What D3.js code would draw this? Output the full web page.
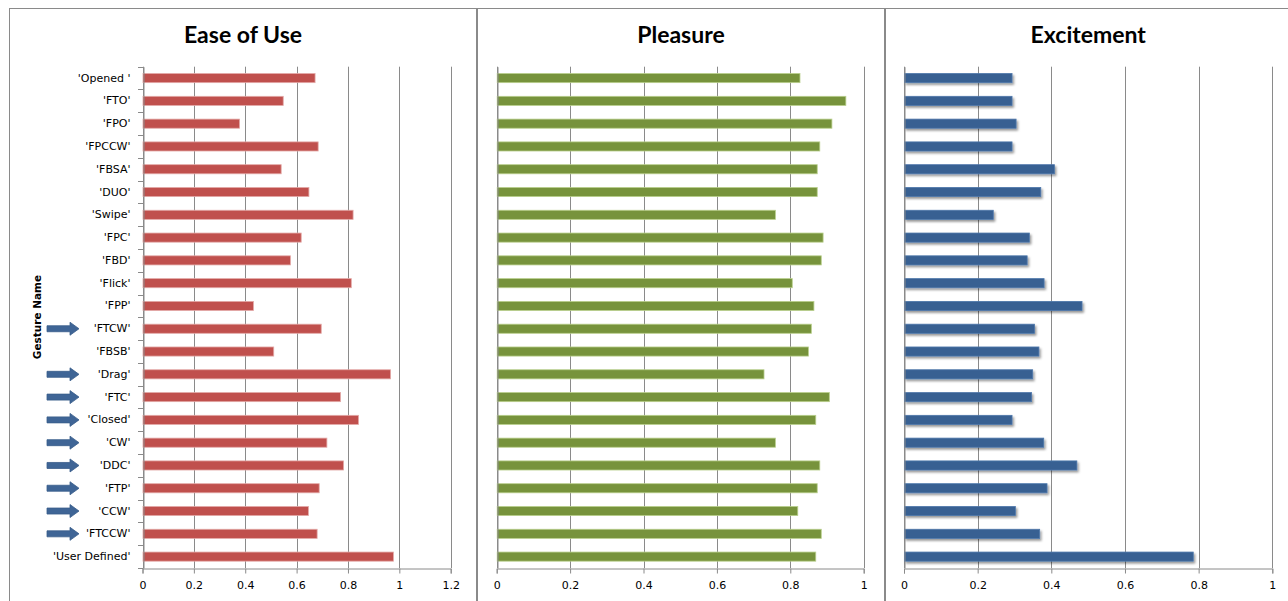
<!DOCTYPE html>
<html>
<head>
<meta charset="utf-8">
<script src="https://cdn.jsdelivr.net/npm/d3@7"></script>
<style>
body { margin: 0; background: #fff; }
svg { display: block; }
</style>
</head>
<body>
<script>
// gesture names, top to bottom as in the sheet
var gestures = ["'Opened '", "'FTO'", "'FPO'", "'FPCCW'", "'FBSA'", "'DUO'", "'Swipe'", "'FPC'",
  "'FBD'", "'Flick'", "'FPP'", "'FTCW'", "'FBSB'", "'Drag'", "'FTC'", "'Closed'", "'CW'",
  "'DDC'", "'FTP'", "'CCW'", "'FTCCW'", "'User Defined'"];

var easeOfUse  = [0.670, 0.546, 0.376, 0.682, 0.538, 0.646, 0.818, 0.616, 0.574, 0.811, 0.430,
  0.694, 0.509, 0.964, 0.769, 0.839, 0.716, 0.781, 0.686, 0.644, 0.678, 0.975];
var pleasure   = [0.825, 0.950, 0.912, 0.879, 0.872, 0.872, 0.758, 0.888, 0.883, 0.804, 0.863,
  0.856, 0.848, 0.727, 0.905, 0.868, 0.758, 0.879, 0.872, 0.819, 0.883, 0.868];
var excitement = [0.292, 0.292, 0.303, 0.292, 0.407, 0.370, 0.241, 0.339, 0.333, 0.379, 0.482,
  0.353, 0.365, 0.348, 0.345, 0.292, 0.378, 0.468, 0.387, 0.301, 0.367, 0.784];

// rows that carry a blue arrow on the left
var arrowRows = ["'FTCW'", "'Drag'", "'FTC'", "'Closed'", "'CW'", "'DDC'", "'FTP'", "'CCW'", "'FTCCW'"];

var ticksEase = [0, 0.2, 0.4, 0.6, 0.8, 1, 1.2];
var ticksUnit = [0, 0.2, 0.4, 0.6, 0.8, 1];

var W = 1288, H = 601;
var grid = "#8a8a8a";
var plotTop = 66.7, plotBottom = 568;

var svg = d3.select("body").append("svg").attr("width", W).attr("height", H);
svg.append("rect").attr("width", W).attr("height", H).attr("fill", "#fff");

var defs = svg.append("defs");
var f = defs.append("filter").attr("id", "shadow").attr("x", "-5%").attr("y", "-50%")
  .attr("width", "115%").attr("height", "250%");
f.append("feDropShadow").attr("dx", 1.5).attr("dy", 2).attr("stdDeviation", 1.2)
  .attr("flood-color", "#000").attr("flood-opacity", 0.4);

var y = d3.scaleBand().domain(gestures).range([plotTop, plotBottom])
  .paddingInner(0.6).paddingOuter(0.3);

function drawPanel(p) {
  var g = svg.append("g");

  // chart border
  g.append("rect").attr("x", p.box[0]).attr("y", 8.5)
    .attr("width", p.box[1] - p.box[0]).attr("height", H + 20)
    .attr("fill", "none").attr("stroke", grid).attr("stroke-width", 1);

  g.append("text").attr("x", (p.box[0] + p.box[1]) / 2).attr("y", 43)
    .attr("text-anchor", "middle")
    .style("font-family", "Lato, 'Open Sans', sans-serif")
    .style("font-weight", "bold").style("font-size", "23px")
    .text(p.title);

  var x = d3.scaleLinear().domain([0, p.max]).range(p.xr);

  // vertical gridlines
  g.selectAll(".gl").data(p.ticks).enter().append("line")
    .attr("x1", function(d) { return Math.round(x(d)) + 0.5; })
    .attr("x2", function(d) { return Math.round(x(d)) + 0.5; })
    .attr("y1", plotTop).attr("y2", plotBottom)
    .attr("stroke", grid).attr("stroke-width", 1);

  // bars
  g.selectAll(".bar").data(p.values).enter().append("rect")
    .attr("x", x(0) + 0.5)
    .attr("y", function(d, i) { return y(gestures[i]); })
    .attr("width", function(d) { return x(d) - x(0); })
    .attr("height", y.bandwidth())
    .attr("fill", p.color)
    .attr("stroke", p.edge).attr("stroke-width", 0.8)
    .attr("filter", p.shadow ? "url(#shadow)" : null);

  // category axis
  var ya = g.append("g").attr("transform", "translate(" + (Math.round(x(0)) + 0.5) + ",0)")
    .call(d3.axisLeft(y).tickSize(0).tickPadding(13));
  ya.select(".domain").attr("stroke", grid);
  if (p.labels) {
    ya.selectAll("text").style("font-family", "'DejaVu Sans', sans-serif")
      .style("font-size", "11px").attr("fill", "#000");
    // tick marks at category boundaries
    var bounds = gestures.map(function(c) { return y(c) - y.step() * 0.3; }).concat([plotBottom]);
    g.selectAll(".bt").data(bounds).enter().append("line")
      .attr("x1", Math.round(x(0)) - 5).attr("x2", Math.round(x(0)) + 0.5)
      .attr("y1", function(d) { return Math.round(d) + 0.5; })
      .attr("y2", function(d) { return Math.round(d) + 0.5; })
      .attr("stroke", grid);
  } else {
    ya.selectAll("text").remove();
  }

  // value axis
  var xa = g.append("g").attr("transform", "translate(0," + (plotBottom + 0.5) + ")")
    .call(d3.axisBottom(x).tickValues(p.ticks).tickSize(5).tickPadding(8)
      .tickFormat(function(d) { return String(d); }));
  xa.select(".domain").attr("stroke", grid);
  xa.selectAll("line").attr("stroke", grid);
  xa.selectAll("text").style("font-family", "'DejaVu Sans', sans-serif")
    .style("font-size", "11px").attr("fill", "#000");
}

drawPanel({ title: "Ease of Use", box: [9.5, 476.5], xr: [142.5, 450.7], max: 1.2,
  ticks: ticksEase, values: easeOfUse, color: "#C0504D", edge: "#e3a9a7", labels: true });
drawPanel({ title: "Pleasure", box: [477.5, 884.5], xr: [496.7, 863.7], max: 1,
  ticks: ticksUnit, values: pleasure, color: "#77933C", edge: "#b9cf8c", labels: false });
drawPanel({ title: "Excitement", box: [885.5, 1291], xr: [904, 1272.3], max: 1,
  ticks: ticksUnit, values: excitement, color: "#376092", edge: "#4f78ab", labels: false, shadow: true });

// axis title
svg.append("text")
  .attr("transform", "translate(41,317) rotate(-90)")
  .attr("text-anchor", "middle")
  .style("font-family", "'DejaVu Sans', sans-serif")
  .style("font-weight", "bold").style("font-size", "10.5px")
  .text("Gesture Name");

// block arrows pointing at the marked gestures
var arrowPath = function(cy) {
  return d3.line()([[47, cy - 3], [70, cy - 3], [70, cy - 6.5], [79, cy], [70, cy + 6.5],
    [70, cy + 3], [47, cy + 3]]) + "Z";
};
svg.selectAll(".arrow").data(arrowRows).enter().append("path")
  .attr("d", function(d) { return arrowPath(y(d) + y.bandwidth() / 2); })
  .attr("fill", "#3f6596").attr("stroke", "#385d8a").attr("stroke-width", 0.8);
</script>
</body>
</html>
